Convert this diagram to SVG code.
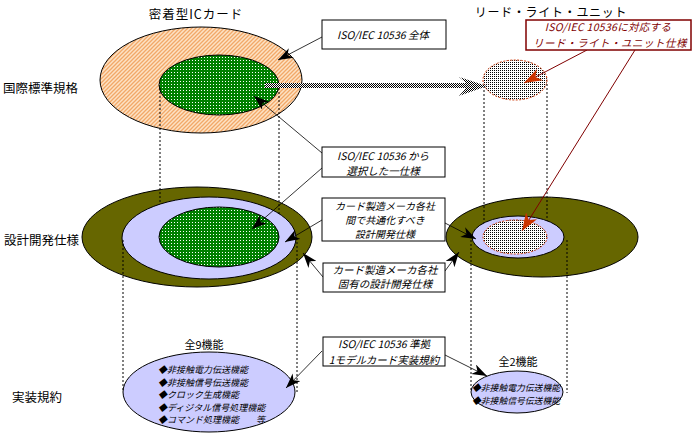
<svg xmlns="http://www.w3.org/2000/svg" width="695" height="439" viewBox="0 0 695 439">
<style>
text{font-family:"Noto Sans CJK JP","Noto Sans",sans-serif;fill:#000}
.lbl{font-size:12.5px}
.box{fill:#fff;stroke:#000;stroke-width:1}
.bt{font-size:10.5px;font-style:italic;text-anchor:middle}
.li{font-size:9px;font-style:italic}
.dot{stroke:#000;stroke-width:1;stroke-dasharray:2,2;fill:none}
.lead{stroke:#000;stroke-width:0.8;fill:none;marker-end:url(#ah)}
.rlead{stroke:#800000;stroke-width:1;fill:none;marker-end:url(#rah)}
</style>
<defs>
<pattern id="peach" width="4" height="4" patternUnits="userSpaceOnUse">
<rect width="4" height="4" fill="#fde2c4"/>
<path d="M-1,1 L1,-1 M0,4 L4,0 M3,5 L5,3" stroke="#f2a868" stroke-width="1.3"/>
</pattern>
<pattern id="green" width="3" height="3" patternUnits="userSpaceOnUse">
<rect width="3" height="3" fill="#008000"/>
<rect width="1" height="1" fill="#fff"/>
</pattern>
<pattern id="dots" width="2" height="2" patternUnits="userSpaceOnUse">
<rect width="2" height="2" fill="#fff"/>
<rect width="1" height="1" fill="#000"/>
</pattern>
<pattern id="check" width="2" height="2" patternUnits="userSpaceOnUse">
<rect width="2" height="2" fill="#fff"/>
<rect width="1" height="1" fill="#000"/>
<rect x="1" y="1" width="1" height="1" fill="#000"/>
</pattern>
<marker id="ah" viewBox="0 0 14 10" refX="14" refY="5" markerWidth="15" markerHeight="11" markerUnits="userSpaceOnUse" orient="auto">
<path d="M0,0 L14,5 L0,10 L4,5 z" fill="#000"/>
</marker>
<marker id="rah" viewBox="0 0 14 10" refX="14" refY="5" markerWidth="18" markerHeight="13" markerUnits="userSpaceOnUse" orient="auto">
<path d="M0,0 L14,5 L0,10 L4,5 z" fill="#cc3300"/>
</marker>
</defs>

<!-- titles and row labels -->
<text class="lbl" x="196" y="19" text-anchor="middle" style="letter-spacing:1px">密着型ICカード</text>
<text class="lbl" x="551" y="17" text-anchor="middle" style="font-size:12px;letter-spacing:0.7px">リード・ライト・ユニット</text>
<text class="lbl" x="3" y="93">国際標準規格</text>
<text class="lbl" x="4" y="245">設計開発仕様</text>
<text class="lbl" x="12" y="402">実装規約</text>

<!-- top row -->
<g id="iso-all-card">
<ellipse cx="201" cy="80" rx="101" ry="53" fill="url(#peach)" stroke="#000" stroke-width="1"/>
</g>
<g id="iso-selected-card">
<ellipse cx="219" cy="85" rx="60" ry="30" fill="url(#green)" stroke="#000" stroke-width="1"/>
</g>
<g id="rw-iso">
<ellipse cx="515" cy="80" rx="32" ry="20" fill="url(#dots)" stroke="#cc3300" stroke-width="1" stroke-dasharray="2,1.5"/>
</g>

<!-- middle row -->
<g id="design-card-outer">
<ellipse cx="197" cy="237" rx="115" ry="50" fill="#666600" stroke="#000" stroke-width="1"/>
</g>
<g id="design-rw-outer">
<ellipse cx="542" cy="237" rx="96" ry="40" fill="#666600" stroke="#000" stroke-width="1"/>
</g>

<g id="connectors">
<!-- dotted projection lines under inner ellipses -->
<path class="dot" d="M160,88 V240 M279,88 V240 M484,86 V237 M547,84 V237"/>
</g>

<g id="design-card-common">
<ellipse cx="209" cy="238" rx="87" ry="41" fill="#ccccff" stroke="#000" stroke-width="1"/>
</g>
<g id="design-card-iso">
<ellipse cx="219" cy="237" rx="60" ry="30" fill="url(#green)" stroke="#000" stroke-width="1"/>
</g>
<g id="design-rw-common">
<ellipse cx="518" cy="237" rx="46" ry="21" fill="#ccccff" stroke="#000" stroke-width="1"/>
</g>
<g id="design-rw-iso">
<ellipse cx="515" cy="237" rx="32" ry="17" fill="url(#dots)" stroke="#cc3300" stroke-width="1" stroke-dasharray="2,1.5"/>
</g>

<!-- bottom row -->
<g id="impl-card">
<ellipse cx="209" cy="392" rx="86" ry="40" fill="#ccccff" stroke="#000" stroke-width="1"/>
<text x="204" y="349" text-anchor="middle" style="font-size:11px">全9機能</text>
<text class="li" x="158" y="373">◆非接触電力伝送機能</text>
<text class="li" x="158" y="385.5">◆非接触信号伝送機能</text>
<text class="li" x="158" y="398">◆クロック生成機能</text>
<text class="li" x="158" y="410.5">◆ディジタル信号処理機能</text>
<text class="li" x="158" y="423">◆コマンド処理機能</text>
<text class="li" x="256" y="423">等</text>
</g>
<g id="impl-rw">
<ellipse cx="517" cy="392" rx="46" ry="21" fill="#ccccff" stroke="#000" stroke-width="1"/>
<text x="518" y="366" text-anchor="middle" style="font-size:11px">全2機能</text>
<text class="li" x="472" y="391" style="font-size:8.8px">◆非接触電力伝送機能</text>
<text class="li" x="472" y="403.5" style="font-size:8.8px">◆非接触信号伝送機能</text>
</g>

<g id="connectors-2">
<path class="dot" d="M123,240 V392 M297,238 V392 M471,240 V390 M567,240 V393"/>
<!-- thick hatched arrow -->
<path d="M265,83 H466 L459,77 L487,86 L459,96 L466,88 H265 z" fill="url(#check)"/>
<!-- leaders -->
<path class="lead" d="M322,37 L278,60"/>
<path class="lead" d="M322,153 L254,96"/>
<path class="lead" d="M322,168 L252,229"/>
<path class="lead" d="M322,220 L285,242"/>
<path class="lead" d="M445,223 L476,239"/>
<path class="lead" d="M323,277 L303,253"/>
<path class="lead" d="M445,271 L459,252"/>
<path class="lead" d="M322,351 L286,388"/>
<path class="lead" d="M445,355 L487,376"/>
<path class="rlead" d="M587,50 L524,83"/>
<path class="rlead" d="M635,50 L522,231"/>
</g>

<!-- boxes -->
<g id="box-iso-all">
<rect class="box" x="322" y="20" width="124" height="29"/>
<text class="bt" x="383" y="39">ISO/IEC 10536 全体</text>
</g>
<g id="box-rw-spec">
<rect x="526" y="20" width="165" height="30" fill="#fff" stroke="#800000" stroke-width="1.5"/>
<text class="bt" x="608" y="31" style="fill:#800000;letter-spacing:0.3px">ISO/IEC 10536に対応する</text>
<text class="bt" x="610" y="47" style="fill:#800000;letter-spacing:0.5px">リード・ライト・ユニット仕様</text>
</g>
<g id="box-iso-select">
<rect class="box" x="322" y="147" width="123" height="30"/>
<text class="bt" x="383" y="160">ISO/IEC 10536 から</text>
<text class="bt" x="383" y="175">選択した一仕様</text>
</g>
<g id="box-common">
<rect class="box" x="322" y="198" width="123" height="43"/>
<text class="bt" x="385" y="210" style="font-size:10px">カード製造メーカ各社</text>
<text class="bt" x="385" y="224" style="font-size:10px">間で共通化すべき</text>
<text class="bt" x="385" y="238" style="font-size:10px">設計開発仕様</text>
</g>
<g id="box-unique">
<rect class="box" x="323" y="263" width="122" height="29"/>
<text class="bt" x="385" y="274">カード製造メーカ各社</text>
<text class="bt" x="385" y="288">固有の設計開発仕様</text>
</g>
<g id="box-impl">
<rect class="box" x="323" y="337" width="122" height="29"/>
<text class="bt" x="384" y="348">ISO/IEC 10536 準拠</text>
<text class="bt" x="384" y="364">1モデルカード実装規約</text>
</g>
</svg>
